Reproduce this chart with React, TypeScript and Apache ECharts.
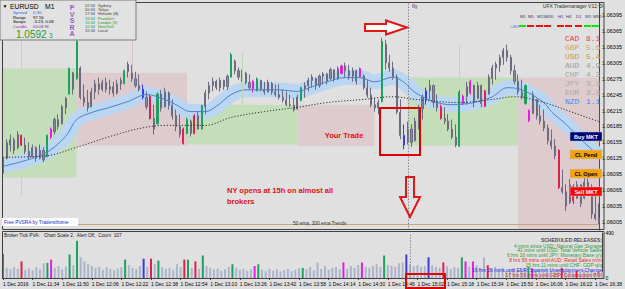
import React, { useEffect, useRef } from 'react';
import * as echarts from 'echarts';

// OHLC bars: [open, close, low, high]
const bars: number[][] = [
  [1.06097, 1.06125, 1.06095, 1.06127], [1.06125, 1.06155, 1.06123, 1.06161], [1.0615, 1.0616, 1.06138, 1.0617], [1.0616, 1.0614, 1.06133, 1.06164], [1.06145, 1.0617, 1.06142, 1.06176],
  [1.06168, 1.0615, 1.06148, 1.0617], [1.0615, 1.06138, 1.06133, 1.06164], [1.06138, 1.06128, 1.06123, 1.06155], [1.06128, 1.06145, 1.06127, 1.06151], [1.06145, 1.06125, 1.06119, 1.06148],
  [1.06125, 1.0614, 1.06123, 1.06151], [1.0614, 1.06122, 1.06118, 1.06146], [1.06128, 1.06168, 1.06127, 1.0617], [1.06165, 1.0618, 1.06161, 1.06183], [1.06175, 1.06198, 1.0617, 1.06202],
  [1.06198, 1.06185, 1.06179, 1.06208], [1.0619, 1.06222, 1.06189, 1.06226], [1.0622, 1.06238, 1.06208, 1.06241], [1.06246, 1.06294, 1.06245, 1.06296], [1.06286, 1.06255, 1.06245, 1.06288],
  [1.06275, 1.06345, 1.06273, 1.06352], [1.06295, 1.0624, 1.06236, 1.06298], [1.0624, 1.0623, 1.06223, 1.06264], [1.0623, 1.0622, 1.06213, 1.06254], [1.06222, 1.0625, 1.06221, 1.06258],
  [1.0625, 1.06265, 1.06236, 1.06273], [1.06265, 1.06255, 1.06245, 1.06277], [1.06255, 1.06268, 1.06251, 1.06273], [1.06268, 1.06255, 1.06249, 1.06277], [1.06255, 1.0626, 1.06245, 1.06273],
  [1.0626, 1.06248, 1.06241, 1.06269], [1.06248, 1.06265, 1.06245, 1.06273], [1.06265, 1.06272, 1.06254, 1.06277], [1.06266, 1.0629, 1.06264, 1.06292], [1.06288, 1.06302, 1.06277, 1.06307],
  [1.063, 1.06275, 1.06269, 1.06301], [1.06275, 1.06262, 1.06258, 1.06288], [1.06262, 1.06255, 1.06251, 1.06283], [1.06255, 1.0624, 1.06236, 1.06264], [1.0624, 1.06222, 1.06217, 1.06251],
  [1.06242, 1.062, 1.06198, 1.06245], [1.062, 1.0618, 1.0617, 1.06226], [1.0619, 1.06246, 1.06189, 1.06249], [1.06246, 1.0622, 1.06213, 1.06254], [1.06222, 1.0625, 1.06221, 1.06258],
  [1.06248, 1.06225, 1.06217, 1.06251], [1.06225, 1.06205, 1.06198, 1.06236], [1.06205, 1.06185, 1.06176, 1.06217], [1.06185, 1.0617, 1.06164, 1.06208], [1.0618, 1.06153, 1.06151, 1.06183],
  [1.06172, 1.06198, 1.0617, 1.06202], [1.06195, 1.06172, 1.06166, 1.06198], [1.06205, 1.06172, 1.0617, 1.06208], [1.0618, 1.06205, 1.06179, 1.06213], [1.0618, 1.06224, 1.06179, 1.06226],
  [1.06222, 1.06248, 1.06208, 1.06254], [1.06248, 1.06262, 1.06236, 1.06269], [1.06262, 1.0627, 1.06251, 1.06277], [1.0627, 1.06258, 1.06254, 1.06273], [1.06258, 1.06272, 1.06251, 1.06277],
  [1.06272, 1.0626, 1.06254, 1.06273], [1.0626, 1.0628, 1.06254, 1.06283], [1.06278, 1.0632, 1.06277, 1.06324], [1.06308, 1.0629, 1.06283, 1.06311], [1.0629, 1.06278, 1.06273, 1.06296],
  [1.06278, 1.06285, 1.06269, 1.06292], [1.06285, 1.06268, 1.06264, 1.06288], [1.06268, 1.06258, 1.06254, 1.06283], [1.06256, 1.0627, 1.06249, 1.06273], [1.06252, 1.06275, 1.06251, 1.06277],
  [1.06272, 1.06255, 1.06251, 1.06273], [1.06255, 1.0625, 1.06245, 1.06269], [1.0625, 1.06268, 1.06249, 1.06273], [1.06266, 1.0625, 1.06245, 1.06269], [1.0625, 1.06245, 1.06241, 1.06264],
  [1.06245, 1.0624, 1.06236, 1.06264], [1.0624, 1.06235, 1.0623, 1.06254], [1.06235, 1.06226, 1.06223, 1.06251], [1.06226, 1.06225, 1.06221, 1.06245], [1.06225, 1.06216, 1.06213, 1.06239],
  [1.06218, 1.0624, 1.06217, 1.06245], [1.06234, 1.06258, 1.06232, 1.0626], [1.06256, 1.06262, 1.06239, 1.06268], [1.06262, 1.06272, 1.06251, 1.06277], [1.06272, 1.06278, 1.06258, 1.06283],
  [1.06275, 1.06262, 1.06254, 1.06277], [1.06262, 1.0628, 1.06258, 1.06283], [1.0628, 1.06284, 1.06264, 1.06288], [1.06284, 1.0627, 1.06264, 1.06286], [1.06275, 1.06292, 1.06273, 1.06296],
  [1.06292, 1.06275, 1.06269, 1.06292], [1.06275, 1.06294, 1.06273, 1.06298], [1.06285, 1.06299, 1.06283, 1.06301], [1.06299, 1.0629, 1.06277, 1.06305], [1.0629, 1.0628, 1.06273, 1.06301],
  [1.0628, 1.0629, 1.06269, 1.06296], [1.0629, 1.0627, 1.06264, 1.06292], [1.06278, 1.06294, 1.06277, 1.06296], [1.0628, 1.06258, 1.06254, 1.06283], [1.06258, 1.06244, 1.06239, 1.06273],
  [1.06244, 1.06226, 1.06221, 1.06258], [1.06226, 1.0622, 1.06213, 1.06239], [1.0622, 1.0623, 1.06208, 1.06236], [1.06232, 1.06345, 1.0623, 1.06352], [1.0634, 1.06305, 1.06292, 1.06348],
  [1.06305, 1.06295, 1.06288, 1.0632], [1.06295, 1.06278, 1.06273, 1.06307], [1.06278, 1.06212, 1.06208, 1.06283], [1.06212, 1.06168, 1.06161, 1.06236], [1.06168, 1.0615, 1.06142, 1.06189],
  [1.06155, 1.0618, 1.06151, 1.06194], [1.0618, 1.06155, 1.06146, 1.06189], [1.06158, 1.06195, 1.06157, 1.06202], [1.06195, 1.06218, 1.06179, 1.06226], [1.06218, 1.0624, 1.06198, 1.06245],
  [1.06235, 1.06252, 1.06226, 1.06258], [1.06252, 1.06262, 1.06236, 1.06273], [1.06262, 1.0623, 1.06221, 1.06264], [1.0623, 1.0622, 1.06213, 1.06245], [1.06222, 1.062, 1.06198, 1.06226],
  [1.062, 1.06195, 1.06189, 1.06221], [1.06195, 1.0618, 1.06176, 1.06208], [1.0618, 1.06165, 1.06161, 1.06198], [1.06165, 1.0615, 1.06146, 1.06189], [1.06148, 1.0625, 1.06146, 1.06254],
  [1.06228, 1.06242, 1.06226, 1.06245], [1.06242, 1.0626, 1.06226, 1.06269], [1.06248, 1.0627, 1.06245, 1.06273], [1.06262, 1.0623, 1.06221, 1.06264], [1.06238, 1.06262, 1.06236, 1.06269],
  [1.06262, 1.06228, 1.06221, 1.06264], [1.06252, 1.06223, 1.06221, 1.06254], [1.06246, 1.06278, 1.06245, 1.06283], [1.06275, 1.06295, 1.06264, 1.06301], [1.06295, 1.06302, 1.06273, 1.06307],
  [1.063, 1.06315, 1.06288, 1.0632], [1.06315, 1.06328, 1.06301, 1.06333], [1.06328, 1.06315, 1.06307, 1.06339], [1.06315, 1.0629, 1.06283, 1.0632], [1.0629, 1.0627, 1.06264, 1.06301],
  [1.0627, 1.0625, 1.06245, 1.06283], [1.0625, 1.0624, 1.06236, 1.06273], [1.06228, 1.06262, 1.06226, 1.06264], [1.06215, 1.06196, 1.06193, 1.06217], [1.0621, 1.06245, 1.06208, 1.06251],
  [1.06236, 1.06205, 1.06198, 1.06236], [1.06205, 1.06195, 1.06189, 1.06226], [1.06195, 1.06182, 1.06176, 1.06217], [1.06182, 1.06158, 1.06151, 1.06189], [1.06158, 1.06148, 1.06142, 1.06179],
  [1.06148, 1.0613, 1.06123, 1.06161], [1.0614, 1.0607, 1.06067, 1.06142], [1.0607, 1.06062, 1.06058, 1.06104], [1.06062, 1.06035, 1.06026, 1.06076], [1.06042, 1.06075, 1.06039, 1.06086],
  [1.06072, 1.06045, 1.06039, 1.06076], [1.0605, 1.06075, 1.06048, 1.06082], [1.06075, 1.0604, 1.06033, 1.06076], [1.0605, 1.0608, 1.06048, 1.06089], [1.0608, 1.06065, 1.06058, 1.06095],
  [1.06065, 1.0602, 1.06011, 1.06076], [1.0602, 1.06012, 1.06008, 1.06058], [1.06012, 1.06004, 1.06001, 1.0604],
];

// PVSRA climax / rising-volume bars
const greenIdx = [0, 12, 18, 20, 33, 42, 50, 54, 62, 69, 81, 103, 124, 142];
const redIdx = [5, 40, 49, 52, 119, 131, 151, 155];
const blueIdx = [38, 109, 115];
const magentaIdx = [13, 68, 92, 97, 125, 127, 143];

// tick volumes
const volumes = [
  265, 110, 95, 120, 100, 180, 90, 105, 85, 120,
  95, 160, 165, 200, 110, 130, 95, 125, 255, 140,
  405, 225, 180, 150, 130, 110, 120, 90, 115, 100,
  85, 105, 120, 200, 140, 110, 95, 130, 210, 120,
  210, 150, 190, 120, 100, 110, 90, 150, 120, 200,
  200, 110, 180, 100, 245, 130, 110, 95, 100, 80,
  95, 120, 150, 110, 90, 100, 80, 95, 130, 150,
  90, 75, 100, 80, 95, 70, 85, 100, 75, 90,
  105, 110, 95, 120, 85, 170, 100, 130, 90, 110,
  120, 95, 170, 100, 130, 110, 140, 170, 120, 110,
  130, 150, 120, 245, 140, 130, 120, 160, 170, 255,
  150, 130, 140, 120, 130, 225, 140, 120, 110, 170,
  130, 100, 120, 110, 225, 180, 120, 180, 140, 110,
  225, 140, 100, 120, 90, 110, 80, 95, 100, 85,
  110, 90, 120, 100, 80, 95, 70, 85, 100, 80,
  90, 110, 75, 90, 70, 80, 65, 85, 70, 80,
  60, 75, 70,
];

// 50 ema and 200 ema, read at bar indices
const ema50 = [
  [0, 1.0611], [11, 1.06133], [17, 1.06166], [20, 1.06198], [24, 1.06211], [29, 1.06221], [34, 1.06232], [39, 1.06245],
  [44, 1.06236], [47, 1.06226], [51, 1.06213], [55, 1.06213], [58, 1.06223], [62, 1.06245], [66, 1.06254], [75, 1.06254],
  [80, 1.06251], [84, 1.0626], [88, 1.06269], [93, 1.06277], [97, 1.06277], [101, 1.06269], [106, 1.06278], [109, 1.06268],
  [112, 1.06249], [117, 1.06232], [122, 1.06226], [128, 1.0623], [133, 1.06241], [137, 1.06258], [141, 1.06254], [147, 1.0623],
  [149, 1.06213], [153, 1.06189], [157, 1.06161], [162, 1.06129],
];
const ema200 = [
  [0, 1.06127], [11, 1.06129], [21, 1.06148], [29, 1.06166], [37, 1.06181], [44, 1.06187], [55, 1.06187], [62, 1.06202],
  [71, 1.06213], [80, 1.06221], [88, 1.0623], [98, 1.06236], [106, 1.06241], [112, 1.06236], [124, 1.0623], [133, 1.06236],
  [139, 1.06241], [147, 1.0623], [155, 1.06211], [162, 1.06194],
];

const timeLabels = [
  '1 Dec 2016', '1 Dec 11:34', '1 Dec 11:50', '1 Dec 12:06', '1 Dec 12:22', '1 Dec 12:38', '1 Dec 12:54',
  '1 Dec 13:10', '1 Dec 13:26', '1 Dec 13:42', '1 Dec 13:58', '1 Dec 14:14', '1 Dec 14:30', '1 Dec 14:46',
  '1 Dec 15:02', '1 Dec 15:18', '1 Dec 15:34', '1 Dec 15:50', '1 Dec 16:06', '1 Dec 16:22', '1 Dec 16:38',
];

// session boxes: [fromBar, toBar, topPrice, bottomPrice, kind]
const sessionBoxes: [number, number, number, number, string][] = [
  [0, 20, 1.06294, 1.06089, 'g'],
  [20, 50, 1.06286, 1.06149, 'p'],
  [50, 80, 1.06226, 1.06151, 'g'],
  [80, 101, 1.06226, 1.06148, 'p'],
  [110, 140, 1.06277, 1.06149, 'g'],
  [140, 162, 1.06277, 1.0599, 'p'],
];
// session extension lines: [bar, fromPrice, toPrice, kind]
const sessionWicks: [number, number, number, string][] = [
  [5, 1.06417, 1.06294, 'g'],
  [5, 1.06089, 1.06054, 'g'],
  [35, 1.06417, 1.06286, 'p'],
  [65, 1.06324, 1.06226, 'g'],
  [124, 1.06339, 1.06277, 'g'],
];
const refLevel = 1.06251;
const nyBar = 110;

const currencies = ['CAD', 'GBP', 'USD', 'AUD', 'CHF', 'JPY', 'EUR', 'NZD'];
const strengths = [8.1, 5.6, 5.4, 4.9, 4.3, 3.3, 3.3, 1.1];
const strengthColors = ['#F03A3A', '#D4A468', '#C89A3C', '#9C9C9C', '#A4A4A4', '#ACACAC', '#ACA6A0', '#3A8CF0'];
const timeframes = ['M1', 'M5', 'M15', 'M30', 'H1', 'H4', 'D1', 'W1', 'MN1'];
const tfTrend = ['g', 'r', 'r', 'r', 'r', 'r', 'r', 'g', 'g'];
const clocks = [
  ['02:34', 'Sydney'], ['00:34', 'Tokyo'], ['17:34', 'Helsinki (B)'], ['16:34', 'Frankfurt'],
  ['15:34', 'London (3)'], ['10:34', 'NewYork'], ['15:34', 'Local'],
];
const clockOpen = [false, false, false, true, true, true, false];
const releases = [
  '4 mins since USD: Natural Gas Storage',
  '41 mins until USD: Total Vehicle Sales',
  '6 hrs 16 mins until JPY: Monetary Base y/y',
  '8 hrs 56 mins until AUD: Retail Sales m/m',
  '15 hrs 11 mins until CHF: GDP q/q',
  '16 hrs 26 mins until EUR: Spanish Unemployment Change',
  '17 hrs 56 mins until GBP: Construction PMI',
];
const releaseColors = ['#2E9A3A', '#2E9A3A', '#2E9A3A', '#E02828', '#2E9A3A', '#2A2AE0', '#E02828'];

const GREEN = '#1FA060';
const RED = '#E0204A';
const BLUE = '#3A3AE8';
const MAGENTA = '#E020E0';
const GREY = '#8A8A9C';
const FF = 'Liberation Sans, Arial, sans-serif';

function colorOf(i: number): string | null {
  if (greenIdx.includes(i)) return GREEN;
  if (redIdx.includes(i)) return RED;
  if (blueIdx.includes(i)) return BLUE;
  if (magentaIdx.includes(i)) return MAGENTA;
  return null;
}

function txt(x: number, y: number, text: string, fill: string, fontSize: number, extra: any = {}) {
  return {
    type: 'text', x, y, z: 60,
    style: { text, fill, fontSize, fontFamily: FF, verticalAlign: 'middle', align: 'left', ...extra },
  };
}

export default function App() {
  const ref = useRef<HTMLDivElement>(null);
  useEffect(() => {
    if (!ref.current) return;
    const chart = echarts.init(ref.current, null, { renderer: 'svg' });
    const cats = bars.map((_, i) => String(i));

    const candleData = bars.map((b, i) => {
      const c = colorOf(i);
      return c ? { value: b, itemStyle: { color: c, color0: c, borderColor: c, borderColor0: c } } : b;
    });
    const volData = volumes.map((v, i) => {
      const c = colorOf(i);
      return { value: v, itemStyle: { color: c || '#AAB4CA' } };
    });

    const graphic: any[] = [];
    // panel frames
    graphic.push({ type: 'rect', z: 55, shape: { x: 2.5, y: 2.5, width: 601.5, height: 227 }, style: { fill: 'none', stroke: '#404040', lineWidth: 1 } });
    graphic.push({ type: 'rect', z: 55, shape: { x: 2.5, y: 231.5, width: 601.5, height: 47 }, style: { fill: 'none', stroke: '#404040', lineWidth: 1 } });
    // header box
    graphic.push({ type: 'rect', z: 58, shape: { x: 0, y: 0, width: 136, height: 40 }, style: { fill: '#E2E2E2', stroke: '#7A7A7A', lineWidth: 1 } });
    graphic.push(txt(2.5, 6, '▼', '#000', 5));
    graphic.push(txt(10, 6.5, 'EURUSD', '#000', 6.8));
    graphic.push(txt(45, 6.5, 'M1', '#000', 6.8));
    const info = [['Spread', '0.30', '#2E62F0'], ['Range', '97.56', '#000'], ['Swaps', '-3.23, 0.08', '#000'], ['Candle', '00:08 M', '#A020C0']];
    info.forEach((r, k) => {
      graphic.push(txt(13, 12.5 + k * 4.5, r[0], r[2], 4.3));
      graphic.push(txt(33, 12.5 + k * 4.5, r[1], r[2], 4.3));
    });
    graphic.push(txt(16, 34, '1.0592', '#1E9E2E', 10));
    graphic.push(txt(49, 35, '3', '#1E9E2E', 6.5));
    'PVSRA'.split('').forEach((ch, k) => {
      graphic.push(txt(72, 7.5 + k * 6.6, ch, '#9060C8', 7, { align: 'center', fontWeight: 'bold' }));
    });
    clocks.forEach((c, k) => {
      const col = clockOpen[k] ? '#2A9A2A' : '#404040';
      graphic.push(txt(85, 5.5 + k * 4.2, c[0], col, 4));
      graphic.push(txt(98, 5.5 + k * 4.2, c[1], col, 4));
    });

    // trade manager
    graphic.push(txt(597, 5.5, 'UFX Trademanager V12', '#303030', 5, { align: 'right' }));
    graphic.push(txt(598, 5.5, '⚙', '#505050', 6));
    const tfX = [520, 528, 537, 545, 558, 566, 576, 585, 593];
    timeframes.forEach((t, k) => {
      graphic.push(txt(tfX[k], 16, t, '#3A3A6A', 4.3));
      graphic.push({ type: 'rect', z: 60, shape: { x: tfX[k] - 1, y: 25, width: 7, height: 2 }, style: { fill: tfTrend[k] === 'g' ? '#10E010' : '#F01010' } });
    });
    graphic.push(txt(510, 26, 'CAN', '#5A8AC8', 4.3));
    currencies.forEach((c, k) => {
      const y = 38.5 + k * 9;
      graphic.push(txt(565, y, c, strengthColors[k], 8, { fontFamily: 'Liberation Mono, monospace' }));
      graphic.push(txt(586, y, strengths[k].toFixed(1), strengthColors[k], 8, { fontFamily: 'Liberation Mono, monospace' }));
    });
    const buttons = [
      ['Buy MKT', 132, '#00007A', '#FFFFFF'],
      ['CL Pend', 150, '#F5A300', '#000000'],
      ['CL Open', 169, '#F5A300', '#000000'],
      ['Sell MKT', 187, '#FF0000', '#FFFFFF'],
    ];
    buttons.forEach((b: any) => {
      graphic.push({ type: 'rect', z: 60, shape: { x: 570, y: b[1], width: 32, height: 9 }, style: { fill: b[2], stroke: '#C0C0C0', lineWidth: 0.5 } });
      graphic.push(txt(586, b[1] + 4.8, b[0], b[3], 5.5, { align: 'center', fontWeight: 'bold' }));
    });

    // annotations
    graphic.push(txt(344, 135.5, 'Your Trade', '#E01010', 7.5, { align: 'center', fontWeight: 'bold' }));
    graphic.push(txt(227, 190, 'NY opens at 15h on almost all', '#E01010', 7.5, { fontWeight: 'bold' }));
    graphic.push(txt(227, 201, 'brokers', '#E01010', 7.5, { fontWeight: 'bold' }));
    graphic.push({ type: 'rect', z: 60, shape: { x: 380, y: 108, width: 40, height: 47 }, style: { fill: 'none', stroke: '#E00000', lineWidth: 2 } });
    graphic.push({ type: 'polygon', z: 60, shape: { points: [[365, 24], [386, 24], [386, 20.5], [407, 27.5], [386, 34.5], [386, 31], [365, 31]] }, style: { fill: '#FAFAFA', stroke: '#E01818', lineWidth: 2 } });
    graphic.push({ type: 'polygon', z: 60, shape: { points: [[406, 177], [414, 177], [414, 197], [420, 197], [410, 217], [400, 197], [406, 197]] }, style: { fill: 'none', stroke: '#E01818', lineWidth: 2 } });
    graphic.push({ type: 'rect', z: 60, shape: { x: 2, y: 218, width: 76, height: 8 }, style: { fill: '#FFFFFF' } });
    graphic.push(txt(4, 222, 'Free PVSRA by Tradersthome', '#2828D0', 4.8));
    graphic.push(txt(293, 223, '50 ema, 200 ema Trends', '#303030', 4.8));
    graphic.push(txt(412, 6, 'Ny', '#303060', 4.5));
    graphic.push(txt(4, 235, 'Broker Tick PVA:   Chart Scale 2,  Alert Off,  Count  107', '#202020', 4.8));
    graphic.push(txt(602, 240, 'SCHEDULED RELEASES:', '#505050', 5, { align: 'right', fontWeight: 'bold' }));
    releases.forEach((r, k) => {
      graphic.push(txt(602, 245.5 + k * 4.85, r, releaseColors[k], 5, { align: 'right' }));
    });
    graphic.push({ type: 'rect', z: 60, shape: { x: 406, y: 274, width: 39, height: 14 }, style: { fill: 'none', stroke: '#E00000', lineWidth: 2 } });

    const markAreaData = sessionBoxes.map((b) => [
      { coord: [b[0], b[2]], itemStyle: { color: b[4] === 'g' ? '#C4DEBA' : '#DDCBCE' } },
      { coord: [b[1], b[3]] },
    ]);
    const markLineData: any[] = [
      { yAxis: refLevel, lineStyle: { color: '#C8A878', type: 'solid', width: 1 } },
      { xAxis: nyBar, lineStyle: { color: '#8A8A9A', type: [1.5, 1.5], width: 1 } },
      ...sessionWicks.map((w) => [
        { coord: [w[0], w[1]], lineStyle: { color: w[3] === 'g' ? '#BCD9B2' : '#D8C2C6', type: 'solid', width: 1 } },
        { coord: [w[0], w[2]] },
      ]),
    ];

    const option: any = {
      animation: false,
      backgroundColor: '#E0E0E0',
      grid: [
        { left: 3, right: 21, top: 3, height: 227 },
        { left: 3, right: 21, top: 233, height: 45 },
      ],
      xAxis: [
        { type: 'category', gridIndex: 0, data: cats, boundaryGap: false, show: false },
        {
          type: 'category', gridIndex: 1, data: cats, boundaryGap: false,
          axisLine: { lineStyle: { color: '#404040' } },
          axisTick: { interval: 7, length: 2, lineStyle: { color: '#404040' } },
          axisLabel: {
            interval: 7, align: 'left', fontSize: 5, color: '#000', margin: 3, fontFamily: FF,
            formatter: (_v: string, i: number) => (i % 8 === 0 ? timeLabels[i / 8] || '' : ''),
          },
          splitLine: { show: false },
        },
      ],
      yAxis: [
        {
          type: 'value', gridIndex: 0, position: 'right', min: 1.0599, max: 1.064175, interval: 0.00015,
          splitLine: { show: false },
          axisLine: { show: true, lineStyle: { color: '#404040' } },
          axisTick: { show: false },
          axisLabel: {
            fontSize: 5.5, color: '#000', margin: 3, fontFamily: FF,
            formatter: (v: number) => {
              const k = Math.round((v - 1.06005) / 0.00015);
              if (k < 0 || k % 2 !== 0) return '';
              if (Math.abs(v - (1.06005 + k * 0.00015)) > 1e-7) return '';
              return v.toFixed(5);
            },
          },
        },
        {
          type: 'value', gridIndex: 1, position: 'right', min: 0, max: 490, interval: 490,
          splitLine: { show: false },
          axisLine: { show: true, lineStyle: { color: '#404040' } },
          axisTick: { show: false },
          axisLabel: { fontSize: 5, color: '#000', margin: 3, fontFamily: FF },
        },
      ],
      series: [
        {
          type: 'line', xAxisIndex: 0, yAxisIndex: 0, data: [], z: 0, silent: true,
          markArea: { silent: true, data: markAreaData },
          markLine: { silent: true, symbol: ['none', 'none'], label: { show: false }, data: markLineData },
        },
        {
          type: 'line', xAxisIndex: 0, yAxisIndex: 0, data: ema50, smooth: 0.35, showSymbol: false, z: 1,
          lineStyle: { width: 15, color: '#BBD6F2' }, silent: true,
        },
        {
          type: 'candlestick', xAxisIndex: 0, yAxisIndex: 0, data: candleData, barWidth: 1.6, z: 3,
          itemStyle: { color: GREY, color0: GREY, borderColor: '#6C6C80', borderColor0: '#6C6C80', borderWidth: 1 },
        },
        {
          type: 'line', xAxisIndex: 0, yAxisIndex: 0, data: ema50, smooth: 0.35, showSymbol: false, z: 4,
          lineStyle: { width: 1, color: '#4A82C6' }, silent: true,
        },
        {
          type: 'line', xAxisIndex: 0, yAxisIndex: 0, data: ema200, smooth: 0.35, showSymbol: false, z: 4,
          lineStyle: { width: 1, color: '#303030', type: [1.2, 1.8] }, silent: true,
        },
        {
          type: 'bar', xAxisIndex: 1, yAxisIndex: 1, data: volData, barWidth: 2, z: 3,
          markLine: {
            silent: true, symbol: ['none', 'none'], label: { show: false },
            data: [{ xAxis: nyBar, lineStyle: { color: '#8A8A9A', type: [1.5, 1.5], width: 1 } }],
          },
        },
      ],
      graphic,
    };
    chart.setOption(option);
    return () => chart.dispose();
  }, []);
  return <div ref={ref} style={{ position: 'fixed', left: 0, top: 0, width: 625, height: 289 }} />;
}
